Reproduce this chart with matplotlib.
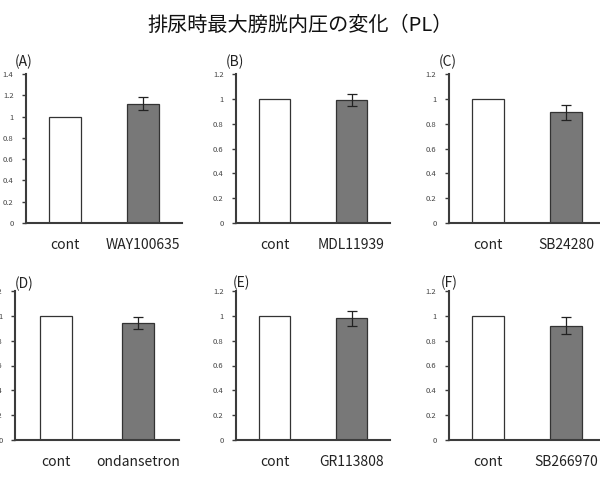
import numpy as np
import matplotlib
matplotlib.use("Agg")
import matplotlib.pyplot as plt
from matplotlib.ticker import FuncFormatter

plt.rcParams['font.family'] = ['Noto Sans CJK JP', 'DejaVu Sans']

# ================ Data ================
TITLE = "排尿時最大膀胱内圧の変化（PL）"
panel_labels = ["(A)", "(B)", "(C)", "(D)", "(E)", "(F)"]
drugs = ["WAY100635", "MDL11939", "SB24280", "ondansetron", "GR113808", "SB266970"]
control_values = [1.0, 1.0, 1.0, 1.0, 1.0, 1.0]
drug_values = [1.12, 0.99, 0.89, 0.94, 0.98, 0.92]
drug_errors = [0.06, 0.05, 0.06, 0.05, 0.06, 0.07]
y_max = [1.4, 1.2, 1.2, 1.2, 1.2, 1.2]

# ================ Layout ================
W, H = 600, 478
axes_px = [  # left, bottom(y of x-axis), width, height in pixels
    (26, 223, 156, 149), (236, 223, 154, 149), (449, 223, 156, 149),
    (15, 440, 164, 149), (236, 440, 154, 149), (449, 440, 156, 149),
]
label_offsets = [(-11, 12), (-10, 12), (-10, 12), (0, 7), (-3, 8), (-8, 8)]

SPINE = '#3c3c3c'
fig = plt.figure(figsize=(W / 100, H / 100), dpi=100)
fig.text(0.5, 1 - 25 / H, TITLE, ha='center', va='center', fontsize=14.5, color='#111111')

for i in range(6):
    l, b, w, h = axes_px[i]
    ax = fig.add_axes([l / W, 1 - b / H, w / W, h / H])
    ax.bar([0], [control_values[i]], width=0.4, color='white', edgecolor='#333333', linewidth=0.9)
    ax.bar([1], [drug_values[i]], width=0.4, color='#787878', edgecolor='#333333', linewidth=0.9,
           yerr=[drug_errors[i]], capsize=3.5, error_kw=dict(elinewidth=0.9, capthick=0.9, ecolor='#222222'))
    ax.set_xlim(-0.5, 1.5)
    ax.set_ylim(0, y_max[i])
    ax.set_yticks(np.arange(0, y_max[i] + 0.01, 0.2))
    ax.yaxis.set_major_formatter(FuncFormatter(lambda v, p: f"{v:g}"))
    ax.set_xticks([0, 1])
    ax.set_xticklabels(["cont", drugs[i]])
    ax.tick_params(axis='x', length=0, pad=11, labelsize=10, labelcolor='#222222')
    ax.tick_params(axis='y', length=3, width=1, color=SPINE, pad=6, labelsize=5.5, labelcolor='#444444')
    for s in ['top', 'right']:
        ax.spines[s].set_visible(False)
    for s in ['left', 'bottom']:
        ax.spines[s].set_color(SPINE)
        ax.spines[s].set_linewidth(1.5)
    dx, dy = label_offsets[i]
    ax.annotate(panel_labels[i], xy=(0, 1), xycoords='axes fraction',
                xytext=(dx * 0.72, dy * 0.72), textcoords='offset points',
                ha='left', va='center', fontsize=10, color='#222222', annotation_clip=False)

fig.savefig("out.png", dpi=100)
